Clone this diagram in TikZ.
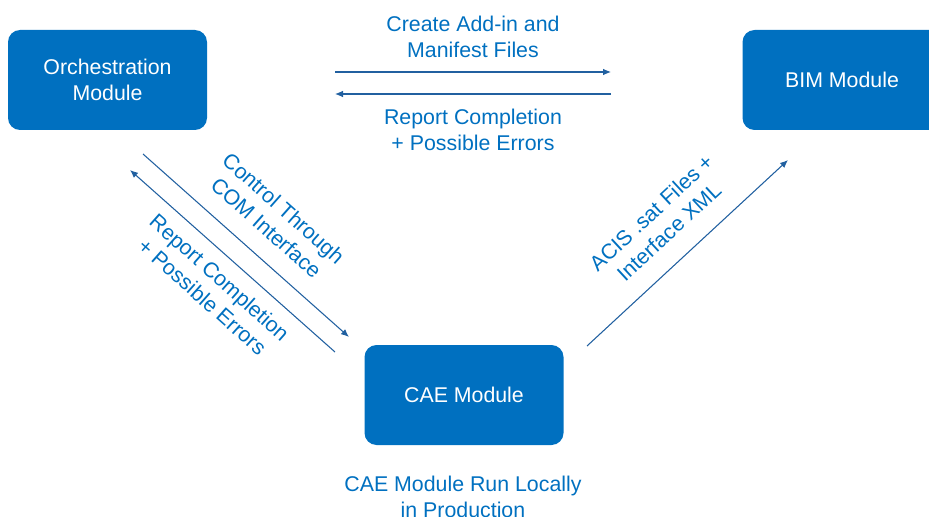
\documentclass[tikz,border=0pt]{standalone}
\usepackage{fontspec}
\setmainfont{Liberation Sans}
\usetikzlibrary{arrows.meta}
\definecolor{modblue}{HTML}{0070C0}
\definecolor{lineblue}{HTML}{2160A0}

\begin{document}
\begin{tikzpicture}[x=0.75pt,y=-0.75pt,
  every node/.style={font=\fontsize{16}{19.5}\selectfont},
  module/.style={fill=modblue, rounded corners=9pt, text=white, align=center,
    minimum width=149.25pt, minimum height=75pt, inner sep=0pt},
  flow/.style={-{Latex[length=6pt,width=5pt]}, line width=0.8pt, lineblue},
  note/.style={text=modblue, align=center, inner sep=0pt}]
  % canvas 929 x 517 px, y runs downwards
  \useasboundingbox (0,0) rectangle (929,517);

  % -- modules --
  \node[module] (orch) at (107.5,80) {Orchestration\\Module};
  \node[module] (bim)  at (842,80)   {BIM Module};
  \node[module] (cae)  at (464,395)  {CAE Module};

  % -- arrow ends (arrows stop short of the boxes) --
  \coordinate (orchOut) at (335,72);  \coordinate (bimIn)   at (611,72);
  \coordinate (bimOut)  at (611,94);  \coordinate (orchIn)  at (335,94);
  \coordinate (orchDn)  at (143,154); \coordinate (caeIn)   at (349,337);
  \coordinate (caeUp)   at (335,352); \coordinate (orchRet) at (130,170);
  \coordinate (caeOut)  at (587,346); \coordinate (bimRec)  at (788,160);

  % -- orchestration <-> BIM --
  \draw[flow] (orchOut) -- (bimIn);
  \draw[flow] (bimOut) -- (orchIn);
  \node[note] (addin) at (473,37) {Create Add-in and\\Manifest Files};
  \node[note] (bimrep) at (473,130) {Report Completion\\+ Possible Errors};

  % -- orchestration <-> CAE --
  \draw[flow] (orchDn) -- (caeIn);
  \draw[flow] (caeUp) -- (orchRet);
  \node[note, rotate=-41.6] (com) at (275,218) {Control Through\\COM Interface};
  \node[note, rotate=-41.6] (caerep) at (211,287) {Report Completion\\+ Possible Errors};

  % -- CAE -> BIM --
  \draw[flow] (caeOut) -- (bimRec);
  \node[note, rotate=42.8] (acis) at (660,222) {ACIS .sat Files +\\Interface XML};

  % -- caption --
  \node[note] (local) at (463,497) {CAE Module Run Locally\\in Production};
\end{tikzpicture}
\end{document}
